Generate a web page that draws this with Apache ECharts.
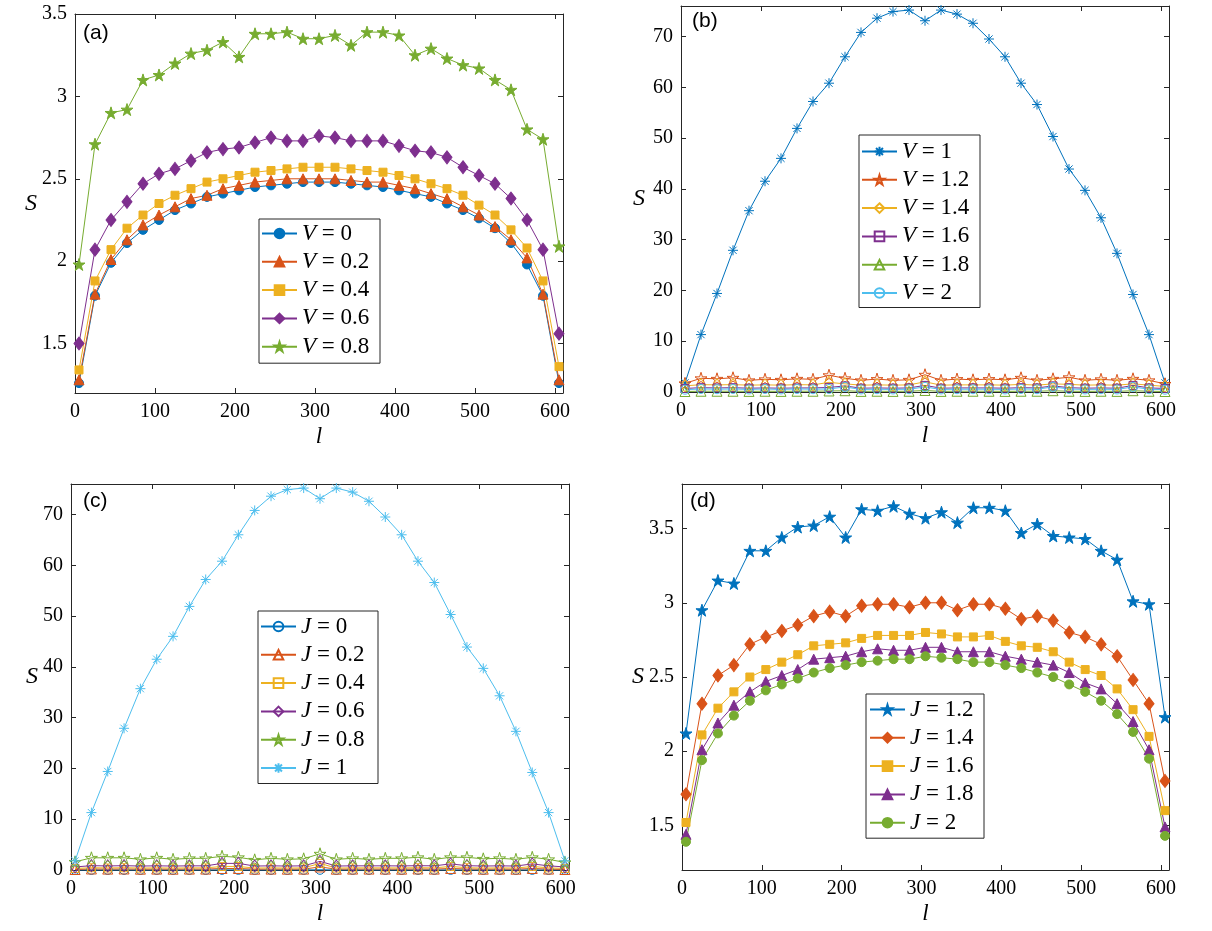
<!DOCTYPE html>
<html>
<head>
<meta charset="utf-8">
<script src="https://cdn.jsdelivr.net/npm/echarts@6/dist/echarts.min.js"></script>
<style>
  html, body { margin: 0; padding: 0; background: #ffffff; }
  #chart { width: 1212px; height: 931px; }
</style>
</head>
<body>
<div id="chart"></div>
<script>
// Subsystem length l
const L = [5, 25, 45, 65, 85, 105, 125, 145, 165, 185, 205, 225, 245, 265, 285, 305,
           325, 345, 365, 385, 405, 425, 445, 465, 485, 505, 525, 545, 565, 585, 605];

// (a) entanglement entropy for V = 0 ... 0.8
const S_a_V0  = [1.26,1.79,1.99,2.11,2.19,2.25,2.31,2.35,2.39,2.41,2.43,2.45,2.46,2.47,2.48,2.48,2.48,2.47,2.46,2.45,2.43,2.41,2.39,2.35,2.31,2.26,2.20,2.11,1.98,1.79,1.26];
const S_a_V02 = [1.28,1.80,2.01,2.13,2.22,2.28,2.33,2.38,2.40,2.44,2.46,2.48,2.49,2.50,2.50,2.50,2.50,2.49,2.48,2.48,2.46,2.44,2.41,2.38,2.33,2.28,2.21,2.13,2.02,1.80,1.28];
const S_a_V04 = [1.34,1.88,2.07,2.20,2.28,2.35,2.40,2.44,2.48,2.50,2.52,2.54,2.55,2.56,2.57,2.57,2.57,2.56,2.55,2.54,2.52,2.50,2.47,2.44,2.40,2.34,2.28,2.19,2.08,1.88,1.36];
const S_a_V06 = [1.50,2.07,2.25,2.36,2.47,2.53,2.56,2.61,2.66,2.68,2.69,2.72,2.75,2.73,2.73,2.76,2.75,2.73,2.73,2.73,2.70,2.67,2.66,2.63,2.57,2.52,2.47,2.38,2.25,2.07,1.56];
const S_a_V08 = [1.98,2.71,2.90,2.92,3.10,3.13,3.20,3.26,3.28,3.33,3.24,3.38,3.38,3.39,3.35,3.35,3.37,3.31,3.39,3.39,3.37,3.25,3.29,3.23,3.19,3.17,3.10,3.04,2.80,2.74,2.09];

// V = 1, J = 1 (shared by panels b and c)
const S_V1_J1 = [1.8,11.3,19.4,27.9,35.7,41.5,46.0,51.9,57.2,60.8,66.0,70.8,73.6,74.9,75.2,73.1,75.2,74.4,72.6,69.5,66.0,60.8,56.6,50.3,43.9,39.7,34.3,27.3,19.2,11.3,1.8];

// (b) V = 1.2 ... 2
const S_b_V12 = [1.7,2.7,2.6,2.8,2.3,2.5,2.4,2.6,2.5,3.3,2.7,2.3,2.55,2.3,2.4,3.4,2.3,2.55,2.4,2.55,2.4,2.8,2.3,2.6,2.9,2.3,2.5,2.3,2.6,2.3,1.6];
const S_b_V14 = [1.2,1.45,1.4,1.45,1.35,1.4,1.35,1.45,1.4,1.9,1.6,1.35,1.4,1.35,1.4,2.0,1.35,1.4,1.4,1.4,1.35,1.5,1.35,1.6,1.5,1.35,1.4,1.35,1.6,1.35,1.1];
const S_b_V16 = [0.7,0.85,0.8,0.85,0.75,0.8,0.75,0.8,0.8,0.9,1.2,0.75,0.8,0.75,0.8,1.3,0.75,0.8,0.8,0.8,0.75,0.85,0.8,1.2,0.85,0.75,0.8,0.75,1.3,0.8,0.7];
const S_b_V18 = [0.1,0.15,0.15,0.15,0.12,0.15,0.12,0.15,0.15,0.2,0.25,0.12,0.15,0.12,0.15,0.3,0.12,0.15,0.15,0.15,0.12,0.15,0.15,0.25,0.15,0.12,0.15,0.12,0.25,0.15,0.1];
const S_b_V2  = [0.45,0.6,0.55,0.6,0.5,0.6,0.5,0.6,0.55,0.6,1.0,0.5,0.55,0.5,0.55,1.0,0.5,0.55,0.55,0.55,0.5,0.6,0.55,1.0,0.6,0.5,0.55,0.5,1.0,0.55,0.45];

// (c) J = 0 ... 0.8
const S_c_J0  = [0.01,0.02,0.02,0.02,0.02,0.02,0.02,0.02,0.02,0.03,0.03,0.02,0.02,0.02,0.02,0.04,0.02,0.02,0.02,0.02,0.02,0.02,0.02,0.03,0.02,0.02,0.02,0.02,0.03,0.02,0.01];
const S_c_J02 = [0.1,0.2,0.18,0.2,0.16,0.18,0.16,0.18,0.18,0.3,0.3,0.16,0.18,0.16,0.18,0.6,0.16,0.18,0.18,0.18,0.16,0.2,0.18,0.3,0.2,0.16,0.18,0.16,0.3,0.18,0.1];
const S_c_J04 = [0.3,0.45,0.4,0.45,0.38,0.42,0.38,0.42,0.42,0.7,0.7,0.38,0.42,0.38,0.42,1.3,0.38,0.42,0.42,0.42,0.4,0.45,0.42,0.7,0.45,0.38,0.42,0.38,0.7,0.42,0.3];
const S_c_J06 = [0.6,0.85,0.8,0.85,0.78,0.82,0.78,0.82,0.82,1.3,1.3,0.78,0.82,0.78,0.82,1.7,0.78,0.82,0.82,0.82,0.8,0.85,0.82,1.2,0.85,0.78,0.82,0.78,1.2,0.82,0.6];
const S_c_J08 = [1.6,2.4,2.4,2.4,2.1,2.4,2.1,2.3,2.3,2.7,2.5,2.0,2.3,2.1,2.2,3.2,2.1,2.3,2.1,2.3,2.3,2.5,2.1,2.5,2.5,2.2,2.3,2.1,2.5,2.1,1.5];

// (d) J = 1.2 ... 2
const S_d_J12 = [2.12,2.95,3.15,3.13,3.35,3.35,3.44,3.51,3.52,3.58,3.44,3.63,3.62,3.65,3.60,3.57,3.61,3.54,3.64,3.64,3.62,3.47,3.53,3.45,3.44,3.43,3.35,3.29,3.01,2.99,2.23];
const S_d_J14 = [1.71,2.32,2.51,2.58,2.72,2.77,2.81,2.85,2.91,2.94,2.91,2.98,2.99,2.99,2.97,3.00,3.00,2.95,2.99,2.99,2.96,2.89,2.91,2.88,2.80,2.77,2.72,2.64,2.48,2.32,1.80];
const S_d_J16 = [1.52,2.11,2.29,2.40,2.50,2.55,2.60,2.65,2.71,2.72,2.73,2.76,2.78,2.78,2.78,2.80,2.79,2.77,2.77,2.78,2.74,2.71,2.70,2.67,2.60,2.55,2.51,2.42,2.28,2.10,1.60];
const S_d_J18 = [1.44,2.01,2.19,2.31,2.40,2.47,2.51,2.55,2.62,2.63,2.64,2.67,2.69,2.68,2.68,2.70,2.70,2.67,2.67,2.67,2.64,2.62,2.60,2.58,2.53,2.46,2.42,2.32,2.20,2.01,1.49];
const S_d_J2  = [1.39,1.94,2.12,2.24,2.34,2.41,2.45,2.49,2.53,2.56,2.58,2.60,2.61,2.62,2.62,2.64,2.63,2.62,2.60,2.60,2.58,2.56,2.53,2.50,2.45,2.40,2.34,2.25,2.13,1.95,1.43];

// Tick labels
const X_TICKS = [0, 100, 200, 300, 400, 500, 600];
const Y_TICKS_A = [1.5, 2, 2.5, 3, 3.5];
const Y_TICKS_BC = [0, 10, 20, 30, 40, 50, 60, 70];
const Y_TICKS_D = [1.5, 2, 2.5, 3, 3.5];

// Line colours
const C = {
  blue: '#0072BD', orange: '#D95319', yellow: '#EDB120',
  purple: '#7E2F8E', green: '#77AC30', cyan: '#4DBEEE'
};

// Marker shapes
const STAR = 'path://M0,-1L0.2245,-0.309L0.9511,-0.309L0.3633,0.118L0.5878,0.809L0,0.382L-0.5878,0.809L-0.3633,0.118L-0.9511,-0.309L-0.2245,-0.309Z';
const ASTER = 'path://M0,-1L0,1M-1,0L1,0M-0.72,-0.72L0.72,0.72M-0.72,0.72L0.72,-0.72';

const AXIS_COLOR = '#262626';
const TICK_FONT = { fontFamily: 'Liberation Serif', fontSize: 20, color: '#000' };

const panels = [
  { grid: { left: 75, top: 14, width: 488, height: 379 }, yMin: 1.2, yMax: 3.5, yTicks: Y_TICKS_A,
    tag: '(a)', tagPos: [83, 35], yGap: 35,
    legend: { left: 259, top: 219, pad: [3, 4, 5, 2], tw: 74 },
    series: [
      { name: 'V = 0',   data: S_a_V0,  color: C.blue,   symbol: 'circle',   size: 9,  fill: true },
      { name: 'V = 0.2', data: S_a_V02, color: C.orange, symbol: 'triangle', size: 10, fill: true },
      { name: 'V = 0.4', data: S_a_V04, color: C.yellow, symbol: 'rect',     size: 8,  fill: true },
      { name: 'V = 0.6', data: S_a_V06, color: C.purple, symbol: 'diamond',  size: [10, 13], fill: true },
      { name: 'V = 0.8', data: S_a_V08, color: C.green,  symbol: STAR,       size: 12, fill: true }
    ] },
  { grid: { left: 681, top: 6, width: 488, height: 386 }, yMin: 0, yMax: 76, yTicks: Y_TICKS_BC,
    tag: '(b)', tagPos: [692, 23], yGap: 36,
    legend: { left: 859, top: 135, pad: [5, 4, 3, 2], tw: 74 },
    series: [
      { name: 'V = 1',   data: S_V1_J1, color: C.blue,   symbol: ASTER,      size: 10, fill: false },
      { name: 'V = 1.2', data: S_b_V12, color: C.orange, symbol: STAR,       size: 12, fill: false },
      { name: 'V = 1.4', data: S_b_V14, color: C.yellow, symbol: 'diamond',  size: [9, 12], fill: false },
      { name: 'V = 1.6', data: S_b_V16, color: C.purple, symbol: 'rect',     size: 8,  fill: false },
      { name: 'V = 1.8', data: S_b_V18, color: C.green,  symbol: 'triangle', size: 10, fill: false },
      { name: 'V = 2',   data: S_b_V2,  color: C.cyan,   symbol: 'circle',   size: 9,  fill: false }
    ] },
  { grid: { left: 71, top: 484, width: 498, height: 386 }, yMin: 0, yMax: 76, yTicks: Y_TICKS_BC,
    tag: '(c)', tagPos: [83, 503], yGap: 31,
    legend: { left: 258, top: 611, pad: [4, 4, 4, 2], tw: 73 },
    series: [
      { name: 'J = 0',   data: S_c_J0,  color: C.blue,   symbol: 'circle',   size: 9,  fill: false },
      { name: 'J = 0.2', data: S_c_J02, color: C.orange, symbol: 'triangle', size: 10, fill: false },
      { name: 'J = 0.4', data: S_c_J04, color: C.yellow, symbol: 'rect',     size: 8,  fill: false },
      { name: 'J = 0.6', data: S_c_J06, color: C.purple, symbol: 'diamond',  size: [9, 12], fill: false },
      { name: 'J = 0.8', data: S_c_J08, color: C.green,  symbol: STAR,       size: 12, fill: false },
      { name: 'J = 1',   data: S_V1_J1, color: C.cyan,   symbol: ASTER,      size: 10, fill: false }
    ] },
  { grid: { left: 682, top: 484, width: 487, height: 386 }, yMin: 1.2, yMax: 3.8, yTicks: Y_TICKS_D,
    tag: '(d)', tagPos: [690, 503], yGap: 35,
    legend: { left: 866, top: 694, pad: [4, 4, 4, 3], tw: 70 },
    series: [
      { name: 'J = 1.2', data: S_d_J12, color: C.blue,   symbol: STAR,       size: 12, fill: true },
      { name: 'J = 1.4', data: S_d_J14, color: C.orange, symbol: 'diamond',  size: [10, 13], fill: true },
      { name: 'J = 1.6', data: S_d_J16, color: C.yellow, symbol: 'rect',     size: 8,  fill: true },
      { name: 'J = 1.8', data: S_d_J18, color: C.purple, symbol: 'triangle', size: 10, fill: true },
      { name: 'J = 2',   data: S_d_J2,  color: C.green,  symbol: 'circle',   size: 9,  fill: true }
    ] }
];

const grids = [], xAxes = [], yAxes = [], series = [], legends = [], graphics = [];

panels.forEach((p, i) => {
  grids.push(Object.assign({ containLabel: false }, p.grid));

  const tick = { show: true, inside: true, length: 5, lineStyle: { color: AXIS_COLOR, width: 1 } };
  const line = { show: true, onZero: false, lineStyle: { color: AXIS_COLOR, width: 1 } };

  // bottom axis with labels, top mirror with ticks only
  xAxes.push({
    type: 'value', gridIndex: i, position: 'bottom', min: 0, max: 610,
    axisLine: line, splitLine: { show: false },
    axisTick: Object.assign({ customValues: X_TICKS }, tick),
    axisLabel: Object.assign({ customValues: X_TICKS, margin: 9 }, TICK_FONT),
    name: 'l', nameLocation: 'middle', nameGap: 32,
    nameTextStyle: { fontFamily: 'Liberation Serif', fontStyle: 'italic', fontSize: 23, color: '#000' }
  });
  xAxes.push({
    type: 'value', gridIndex: i, position: 'top', min: 0, max: 610,
    axisLine: line, splitLine: { show: false },
    axisTick: Object.assign({ customValues: X_TICKS }, tick),
    axisLabel: { show: false }
  });

  // left axis with labels, right mirror with ticks only
  yAxes.push({
    type: 'value', gridIndex: i, position: 'left', min: p.yMin, max: p.yMax,
    axisLine: line, splitLine: { show: false },
    axisTick: Object.assign({ customValues: p.yTicks }, tick),
    axisLabel: Object.assign({ customValues: p.yTicks, margin: 8 }, TICK_FONT),
    name: 'S', nameLocation: 'middle', nameGap: p.yGap, nameRotate: 0,
    nameTextStyle: { fontFamily: 'Liberation Serif', fontStyle: 'italic', fontSize: 24, color: '#000' }
  });
  yAxes.push({
    type: 'value', gridIndex: i, position: 'right', min: p.yMin, max: p.yMax,
    axisLine: line, splitLine: { show: false },
    axisTick: Object.assign({ customValues: p.yTicks }, tick),
    axisLabel: { show: false }
  });

  p.series.forEach(s => {
    series.push({
      type: 'line', name: s.name,
      xAxisIndex: 2 * i, yAxisIndex: 2 * i,
      data: L.map((l, k) => [l, s.data[k]]),
      symbol: s.symbol, symbolSize: s.size, showSymbol: true,
      lineStyle: { color: s.color, width: 1 },
      itemStyle: { color: s.fill ? s.color : 'rgba(255,255,255,0)', borderColor: s.color, borderWidth: 1 },
      emphasis: { disabled: true },
      clip: false, animation: false
    });
  });

  legends.push({
    data: p.series.map(s => s.name),
    orient: 'vertical', left: p.legend.left, top: p.legend.top,
    padding: p.legend.pad, itemWidth: 35, itemHeight: 12, itemGap: 5.3,
    borderColor: AXIS_COLOR, borderWidth: 1, backgroundColor: '#ffffff',
    selectedMode: false,
    formatter: name => '{i|' + name.charAt(0) + '}' + name.slice(1),
    textStyle: {
      fontFamily: 'Liberation Serif', fontSize: 23, lineHeight: 23, color: '#000', width: p.legend.tw,
      rich: { i: { fontFamily: 'Liberation Serif', fontStyle: 'italic', fontSize: 23, lineHeight: 23, color: '#000' } }
    }
  });

  graphics.push({
    type: 'text', left: p.tagPos[0], top: p.tagPos[1] - 12, z: 100,
    style: { text: p.tag, font: '21px "Liberation Sans"', fill: '#000' }
  });
});

const chart = echarts.init(document.getElementById('chart'), null, { renderer: 'canvas' });
chart.setOption({
  backgroundColor: '#ffffff',
  animation: false,
  grid: grids,
  xAxis: xAxes,
  yAxis: yAxes,
  legend: legends,
  graphic: graphics,
  series: series
});
</script>
</body>
</html>
